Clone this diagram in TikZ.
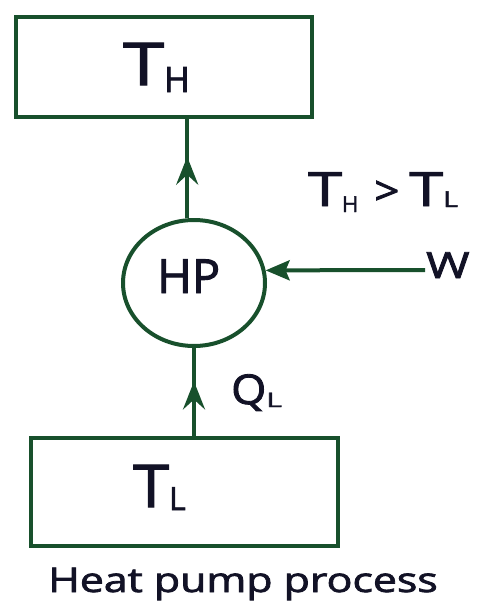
\documentclass[tikz,border=0pt]{standalone}
\usepackage{fontspec}
\setmainfont{Open Sans}[FakeBold=2]
\usetikzlibrary{arrows.meta,decorations.markings,shapes.geometric}
\definecolor{ink}{HTML}{121226}
\definecolor{pen}{HTML}{18502C}
\newcommand{\fs}[1]{\fontsize{#1}{#1}\selectfont}
\newcommand{\wide}[2]{\scalebox{#1}[1]{#2}}
\begin{document}
\begin{tikzpicture}[x=1pt,y=-1pt,
  reservoir/.style={draw=pen,line width=4pt,rectangle,inner sep=0pt},
  pump/.style={draw=pen,line width=4pt,ellipse,inner sep=0pt},
  flow/.style={draw=pen,line width=4pt},
  midarrow/.style={postaction={decorate},decoration={markings,
    mark=at position #1 with {\arrow{Stealth[length=28pt,width=22pt,inset=10pt]}}}},
  label/.style={text=ink,inner sep=0pt}]
\useasboundingbox (0,0) rectangle (485,613);
\fill[white] (0,0) rectangle (485,613);

% reservoirs and the heat pump
\node[reservoir,minimum width=296pt,minimum height=100pt] (hot) at (164,67) {};
\node[reservoir,minimum width=307pt,minimum height=108pt] (cold) at (184.5,492) {};
\node[pump,minimum width=142pt,minimum height=126pt] (hp) at (194,283) {};
\coordinate (w) at (425,270);

% heat and work flows
\draw[flow,midarrow=0.62] (hp.96) -- (hp.96 |- hot.south);
\draw[flow,midarrow=0.62] (hp.south |- cold.north) -- (hp.south);
\draw[flow,-{Stealth[length=24pt,width=20pt,inset=4pt]}] (w) -- (hp.10);

% labels
\node[label,anchor=base west,font=\fs{59}] (thlabel) at (123,85) {\wide{1.25}{T}\raisebox{-7pt}{\fs{35}H}};
\node[label,anchor=base west,font=\fs{47}] (hplabel) at (157,293) {HP};
\node[label,anchor=base west,font=\fs{47}] (cond) at (308,206)
  {\wide{1.3}{T}\raisebox{-6pt}{\fs{22}H}\hspace{16pt}\raisebox{1pt}{\wide{1.1}{\fs{40}>}}\hspace{10pt}\wide{1.3}{T}\raisebox{-1pt}{\wide{1.3}{\fs{22}L}}};
\node[label,anchor=base west,font=\fs{36}] (wlabel) at (426,278) {\wide{1.3}{W}};
\node[label,anchor=base west,font=\fs{41}] (qlabel) at (231,404) {\wide{1.1}{Q}\raisebox{-3pt}{\wide{1.5}{\fs{20}L}}};
\node[label,anchor=base west,font=\fs{59}] (tllabel) at (133,507) {\wide{1.1}{T}\raisebox{-3pt}{\fs{32}L}};
\node[label,anchor=base,font=\fs{34}] (caption) at (243,592) {\wide{1.26}{Heat pump process}};
\end{tikzpicture}
\end{document}
